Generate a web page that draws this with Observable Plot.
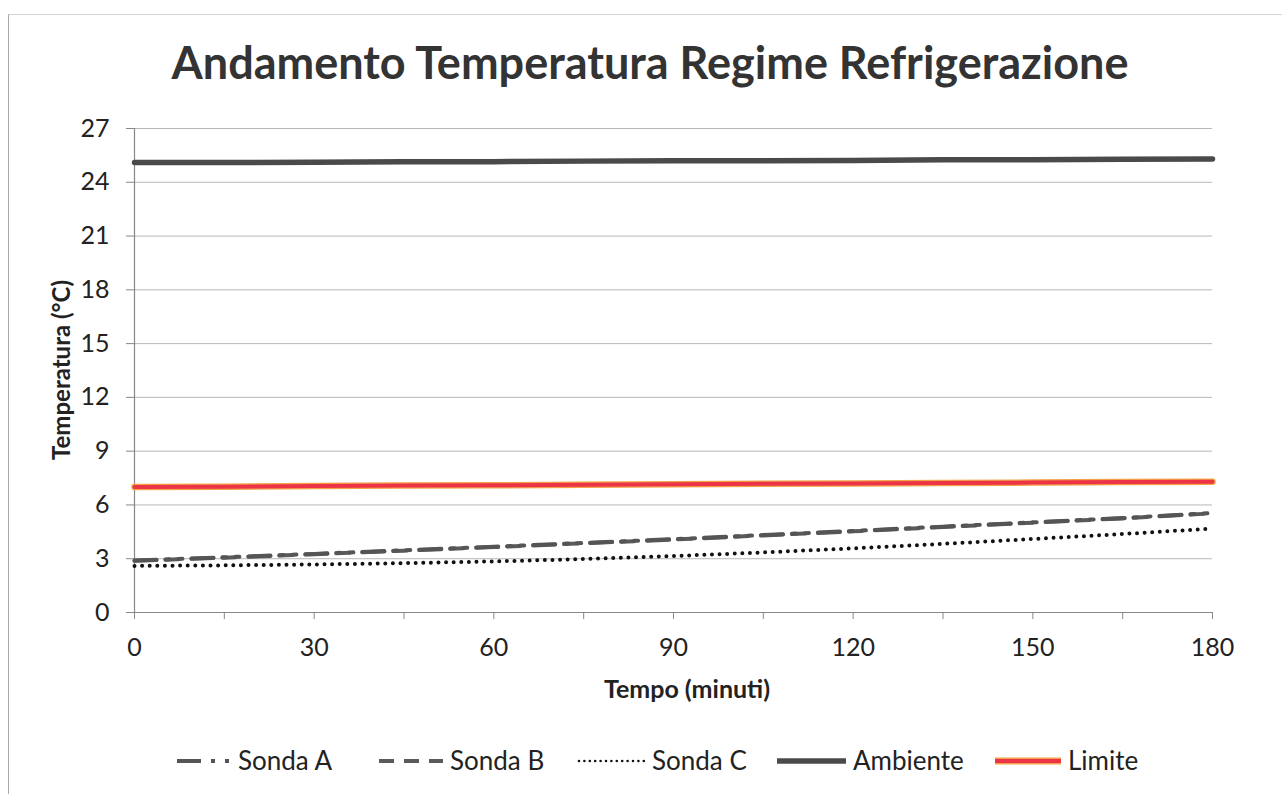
<!DOCTYPE html>
<html><head><meta charset="utf-8">
<script src="https://cdn.jsdelivr.net/npm/d3@7"></script>
<script src="https://cdn.jsdelivr.net/npm/@observablehq/plot@0.6"></script>
<style>
body{margin:0;background:#fff;font-family:Lato,"Open Sans",sans-serif;}
#wrap{position:relative;width:1282px;height:794px;overflow:hidden;background:#fff;}
#frame{position:absolute;left:8px;top:14px;width:1290px;height:800px;border-left:1.5px solid #aaa;border-top:1px solid #d4d4d4;}
#title{position:absolute;top:40px;left:9px;width:1282px;text-align:center;font-weight:700;font-size:45px;color:#333;line-height:1;}
#chart{position:absolute;left:0;top:100px;}
#ylabel{position:absolute;left:60px;top:370px;transform:translate(-50%,-50%) rotate(-90deg);font-weight:700;font-size:24px;color:#222;white-space:nowrap;}
#xlabel{position:absolute;left:687px;top:688px;transform:translate(-50%,-50%);font-weight:700;font-size:25px;color:#222;white-space:nowrap;}
.item{position:absolute;top:745px;height:30px;display:flex;align-items:center;font-size:26px;color:#222;white-space:nowrap;}
.item svg{margin-right:5px;}
</style></head>
<body>
<div id="wrap">
  <div id="frame"></div>
  <div id="title">Andamento Temperatura Regime Refrigerazione</div>
  <div id="chart"></div>
  <div id="ylabel">Temperatura (°C)</div>
  <div id="xlabel">Tempo (minuti)</div>
  <div id="legend"></div>
</div>
<script>
const minutes  = [0, 15, 30, 45, 60, 75, 90, 105, 120, 135, 150, 165, 180];
const sondaA   = [2.90, 3.08, 3.27, 3.47, 3.67, 3.88, 4.09, 4.32, 4.55, 4.79, 5.03, 5.27, 5.55];
const sondaB   = [2.88, 3.06, 3.25, 3.45, 3.65, 3.86, 4.07, 4.30, 4.53, 4.77, 5.01, 5.25, 5.53];
const sondaC   = [2.60, 2.63, 2.68, 2.75, 2.85, 2.98, 3.15, 3.35, 3.58, 3.83, 4.10, 4.38, 4.68];
const ambiente = [25.10, 25.10, 25.12, 25.15, 25.15, 25.18, 25.20, 25.20, 25.22, 25.25, 25.25, 25.28, 25.30];
const limite   = [7.00, 7.02, 7.05, 7.08, 7.10, 7.12, 7.15, 7.18, 7.20, 7.22, 7.25, 7.28, 7.30];
const seriesNames = ["Sonda A", "Sonda B", "Sonda C", "Ambiente", "Limite"];
const xTicks = [0, 30, 60, 90, 120, 150, 180];
const xMinorTicks = [0, 15, 30, 45, 60, 75, 90, 105, 120, 135, 150, 165, 180];
const yTicks = [0, 3, 6, 9, 12, 15, 18, 21, 24, 27];

const seriesValues = [sondaA, sondaB, sondaC, ambiente, limite];
const data = seriesNames.flatMap((s, i) => minutes.map((m, j) => ({series: s, t: m, v: seriesValues[i][j]})));
const of = s => data.filter(d => d.series === s);

const styles = {
  "Sonda A": {stroke: "#555", strokeWidth: 4, strokeDasharray: "22 9 4 9 4 9"},
  "Sonda B": {stroke: "#5a5a5a", strokeWidth: 4, strokeDasharray: "22 9 13 13"},
  "Sonda C": {stroke: "#111", strokeWidth: 4, strokeDasharray: "0 7.6", strokeLinecap: "round"},
  "Ambiente": {stroke: "#4a4a4a", strokeWidth: 5.5}
};

const chart = Plot.plot({
  width: 1282, height: 620,
  marginLeft: 134, marginRight: 70, marginTop: 28, marginBottom: 108,
  style: {fontFamily: "Lato, 'Open Sans', sans-serif", color: "#222", background: "transparent"},
  x: {domain: [0, 180]},
  y: {domain: [0, 27]},
  marks: [
    Plot.gridY(yTicks.filter(d => d > 0), {stroke: "#999", strokeOpacity: 0.7, strokeWidth: 1}),
    Plot.ruleY([0], {stroke: "#888", strokeWidth: 1.2}),
    Plot.ruleX([0], {stroke: "#888", strokeWidth: 1.2}),
    Plot.axisY({ticks: yTicks, tickSize: 8, tickPadding: 17, fontSize: 25, stroke: "#888", label: null}),
    Plot.axisX({ticks: xMinorTicks, tickSize: 7, tickFormat: () => "", stroke: "#888", label: null}),
    Plot.axisX({ticks: xTicks, tickSize: 0, tickPadding: 26, fontSize: 25, label: null}),
    Plot.line(of("Limite"), {x: "t", y: "v", stroke: "#f3a24a", strokeWidth: 6.5}),
    Plot.line(of("Limite"), {x: "t", y: "v", stroke: "#ec3446", strokeWidth: 4}),
    Plot.line(of("Ambiente"), {x: "t", y: "v", ...styles["Ambiente"]}),
    Plot.line(of("Sonda C"), {x: "t", y: "v", ...styles["Sonda C"]}),
    Plot.line(of("Sonda B"), {x: "t", y: "v", ...styles["Sonda B"]}),
    Plot.line(of("Sonda A"), {x: "t", y: "v", ...styles["Sonda A"]})
  ]
});
document.getElementById("chart").appendChild(chart);

// Legend
const legendPos = {"Sonda A": 175, "Sonda B": 377, "Sonda C": 577, "Ambiente": 775, "Limite": 993};
const swW = {"Sonda A": 58, "Sonda B": 68, "Sonda C": 70, "Ambiente": 73, "Limite": 70};
const legend = document.getElementById("legend");
const ns = "http://www.w3.org/2000/svg";
seriesNames.forEach(s => {
  const item = document.createElement("div");
  item.className = "item";
  item.style.left = legendPos[s] + "px";
  const svg = document.createElementNS(ns, "svg");
  svg.setAttribute("width", swW[s]); svg.setAttribute("height", 14);
  const addLine = (st) => {
    const l = document.createElementNS(ns, "line");
    l.setAttribute("x1", 2); l.setAttribute("x2", swW[s] - 2);
    l.setAttribute("y1", 8); l.setAttribute("y2", 8);
    l.setAttribute("stroke", st.stroke); l.setAttribute("stroke-width", st.strokeWidth);
    if (st.strokeDasharray) l.setAttribute("stroke-dasharray", st.strokeDasharray);
    if (st.strokeLinecap) l.setAttribute("stroke-linecap", st.strokeLinecap);
    svg.appendChild(l);
  };
  if (s === "Limite") {
    addLine({stroke: "#f3a24a", strokeWidth: 7});
    addLine({stroke: "#ec3446", strokeWidth: 4});
  } else if (s === "Sonda A") {
    addLine({stroke: "#555", strokeWidth: 4, strokeDasharray: "24 10 4 10 4 10"});
  } else if (s === "Sonda B") {
    addLine({stroke: "#5a5a5a", strokeWidth: 4, strokeDasharray: "15 10"});
  } else if (s === "Sonda C") {
    addLine({stroke: "#111", strokeWidth: 2.6, strokeDasharray: "0 5.4", strokeLinecap: "round"});
  } else {
    addLine(styles[s]);
  }
  item.appendChild(svg);
  const tx = document.createElement("span");
  tx.textContent = s;
  item.appendChild(tx);
  legend.appendChild(item);
});
</script>
</body></html>
